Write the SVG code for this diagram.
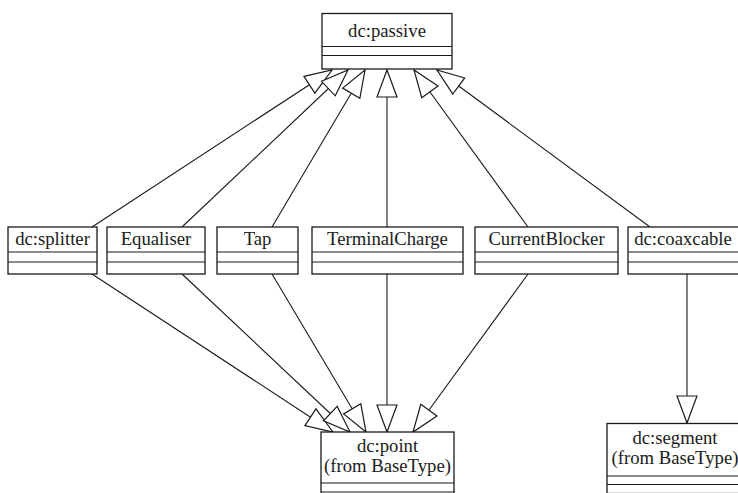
<svg xmlns="http://www.w3.org/2000/svg" width="738" height="493" viewBox="0 0 738 493">
<defs>
<marker id="gen" markerUnits="userSpaceOnUse" markerWidth="30" markerHeight="24" viewBox="0 0 30 24" refX="28" refY="12" orient="auto">
<path d="M1,2 L28,12 L1,22 Z" fill="#fff" stroke="#1a1a1a" stroke-width="1.2" stroke-linejoin="miter"/>
</marker>
</defs>
<style>
.box{fill:#fff;stroke:#1a1a1a;stroke-width:1.3}
.div{stroke:#1a1a1a;stroke-width:1.2}
.t{font-family:"Liberation Serif","Times New Roman",serif;font-size:18.7px;fill:#1a1a1a;text-anchor:middle}
.c{stroke:#1a1a1a;stroke-width:1.1;fill:none;marker-end:url(#gen)}
</style>
<rect width="738" height="493" fill="#fff"/>
<g id="connectors">
<line class="c" x1="92" y1="227" x2="332" y2="70"/>
<line class="c" x1="182" y1="227" x2="348" y2="70"/>
<line class="c" x1="272" y1="227" x2="365" y2="70"/>
<line class="c" x1="387" y1="227" x2="387" y2="70"/>
<line class="c" x1="528" y1="227" x2="414" y2="70"/>
<line class="c" x1="650" y1="227" x2="437" y2="70"/>
<line class="c" x1="92" y1="274" x2="333" y2="432"/>
<line class="c" x1="182" y1="274" x2="350" y2="432"/>
<line class="c" x1="272" y1="274" x2="366" y2="432"/>
<line class="c" x1="387" y1="274" x2="387" y2="432"/>
<line class="c" x1="528" y1="274" x2="413" y2="432"/>
<line class="c" x1="687" y1="274" x2="687" y2="423"/>
</g>
<g id="passive">
<rect class="box" x="322" y="13.5" width="130" height="55.5"/>
<line class="div" x1="322" y1="46.5" x2="452" y2="46.5"/>
<line class="div" x1="322" y1="55.5" x2="452" y2="55.5"/>
<text class="t" x="387" y="37">dc:passive</text>
</g>
<g id="splitter">
<rect class="box" x="8" y="227" width="89" height="47"/>
<line class="div" x1="8" y1="252" x2="97" y2="252"/>
<line class="div" x1="8" y1="262" x2="97" y2="262"/>
<text class="t" x="52.5" y="245">dc:splitter</text>
</g>
<g id="equaliser">
<rect class="box" x="107" y="227" width="98" height="47"/>
<line class="div" x1="107" y1="252" x2="205" y2="252"/>
<line class="div" x1="107" y1="262" x2="205" y2="262"/>
<text class="t" x="156" y="245">Equaliser</text>
</g>
<g id="tap">
<rect class="box" x="217" y="227" width="81" height="47"/>
<line class="div" x1="217" y1="252" x2="298" y2="252"/>
<line class="div" x1="217" y1="262" x2="298" y2="262"/>
<text class="t" x="257.5" y="245">Tap</text>
</g>
<g id="terminalcharge">
<rect class="box" x="312" y="227" width="151" height="47"/>
<line class="div" x1="312" y1="252" x2="463" y2="252"/>
<line class="div" x1="312" y1="262" x2="463" y2="262"/>
<text class="t" x="387.5" y="245">TerminalCharge</text>
</g>
<g id="currentblocker">
<rect class="box" x="475" y="227" width="143" height="47"/>
<line class="div" x1="475" y1="252" x2="618" y2="252"/>
<line class="div" x1="475" y1="262" x2="618" y2="262"/>
<text class="t" x="546.5" y="245">CurrentBlocker</text>
</g>
<g id="coaxcable">
<rect class="box" x="628" y="227" width="114" height="47"/>
<line class="div" x1="628" y1="252" x2="742" y2="252"/>
<line class="div" x1="628" y1="262" x2="742" y2="262"/>
<text class="t" x="683" y="245">dc:coaxcable</text>
</g>
<g id="point">
<rect class="box" x="321" y="432" width="133" height="70"/>
<line class="div" x1="321" y1="483" x2="454" y2="483"/>
<line class="div" x1="321" y1="492" x2="454" y2="492"/>
<text class="t" x="387.5" y="452">dc:point</text>
<text class="t" x="387.5" y="472">(from BaseType)</text>
</g>
<g id="segment">
<rect class="box" x="607" y="423.5" width="135" height="70"/>
<line class="div" x1="607" y1="476" x2="742" y2="476"/>
<line class="div" x1="607" y1="484.5" x2="742" y2="484.5"/>
<text class="t" x="675" y="444">dc:segment</text>
<text class="t" x="675" y="464">(from BaseType)</text>
</g>
</svg>
